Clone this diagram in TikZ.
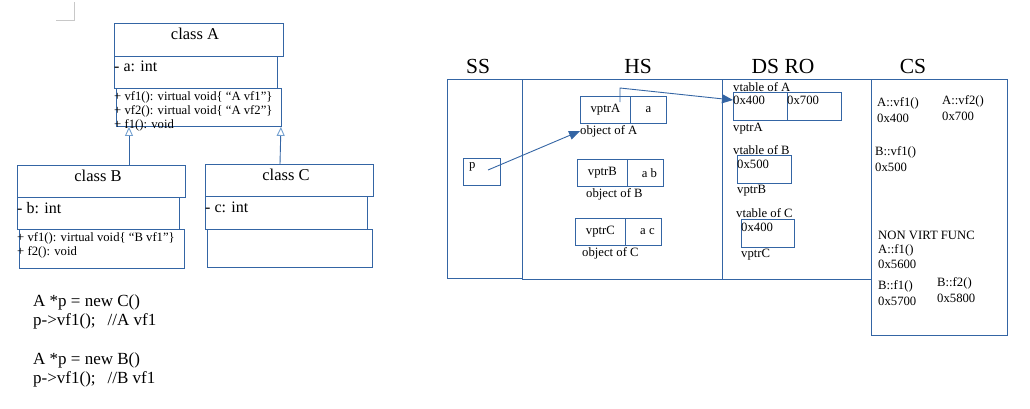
\documentclass[tikz,border=0pt]{standalone}
\usepackage{fontspec}
\setmainfont{Liberation Serif}
\usetikzlibrary{arrows.meta,calc}
\definecolor{blu}{HTML}{3465A4}
\definecolor{lightblu}{HTML}{729FCF}
\definecolor{cornergray}{HTML}{C8C8C8}
\newcommand{\fsz}[1]{\fontsize{#1}{#1}\selectfont}
\begin{document}
\begin{tikzpicture}[x=1pt,y=-1pt,
  box/.style={draw=blu, line width=0.9pt, inner sep=0pt, anchor=north west},
  txt/.style={inner sep=0pt, font=\fsz{12.7}},
  ltxt/.style={txt, anchor=west},
  title/.style={inner sep=0pt, font=\fsz{16.5}},
  attr/.style={inner sep=0pt, anchor=west, font=\fsz{16}},
  code/.style={inner sep=0pt, anchor=west, font=\fsz{17}},
  head/.style={inner sep=0pt, font=\fsz{21.5}},
  inh/.style={draw=blu, line width=0.9pt, -{Triangle[open, length=9pt, width=8pt, color=lightblu, fill=white]}},
  ptr/.style={draw=blu, line width=0.9pt, -{Triangle[length=11pt, width=9pt]}}
]
\useasboundingbox (0,0) rectangle (1030,408);

% page corner mark
\draw[cornergray, line width=1pt] (56,20) -- (74,20) -- (74,2);

% ---------- class A ----------
\node[box, minimum width=169pt, minimum height=33pt] (Ahead) at (114,23) {};
\node[box, minimum width=163pt, minimum height=32pt] (Aattr) at (114,56) {};
\node[box, minimum width=165pt, minimum height=38pt] (Ameth) at (116,88) {};
\node[title] (Atitle) at (195,34) {class A};
\node[attr] (Aa) at (114,66) {- a: int};
\node[ltxt] (Am1) at (114,97) {+ vf1(): virtual void\{ “A vf1”\}};
\node[ltxt] (Am2) at (114,111) {+ vf2(): virtual void\{ “A vf2”\}};
\node[ltxt] (Am3) at (114,125) {+ f1(): void};

% ---------- class B ----------
\node[box, minimum width=168pt, minimum height=32pt] (Bhead) at (17,165) {};
\node[box, minimum width=162pt, minimum height=32pt] (Battr) at (17,197) {};
\node[box, minimum width=165pt, minimum height=39pt] (Bmeth) at (19,229) {};
\node[title] (Btitle) at (98,176) {class B};
\node[attr] (Bb) at (17,208) {- b: int};
\node[ltxt] (Bm1) at (17,238) {+ vf1(): virtual void\{ “B vf1”\}};
\node[ltxt] (Bm2) at (17,252) {+ f2(): void};

% ---------- class C ----------
\node[box, minimum width=168pt, minimum height=32pt] (Chead) at (205,164) {};
\node[box, minimum width=162pt, minimum height=33pt] (Cattr) at (205,196) {};
\node[box, minimum width=165pt, minimum height=38pt] (Cmeth) at (207,229) {};
\node[title] (Ctitle) at (286,175) {class C};
\node[attr] (Cc) at (205,207) {- c: int};

% inheritance
\draw[inh] ($(Bhead.north west)+(112,0)$) -- ($(Ameth.south west)+(13,0)$);
\draw[inh] ($(Chead.north west)+(75,0)$) -- ($(Ameth.south east)+(-1,0)$);

% ---------- code ----------
\node[code] (c1) at (33,302) {A *p = new C()};
\node[code] (c2) at (33,321) {p->vf1();\hspace{12pt}//A vf1};
\node[code] (c3) at (33,360) {A *p = new B()};
\node[code] (c4) at (33,379) {p->vf1();\hspace{12pt}//B vf1};

% ---------- memory segments ----------
\node[box, minimum width=75pt, minimum height=199pt] (SS) at (447,79) {};
\node[box, minimum width=200pt, minimum height=200pt] (HS) at (522,79) {};
\node[box, minimum width=149pt, minimum height=200pt] (DS) at (722,79) {};
\node[box, minimum width=136pt, minimum height=256pt] (CS) at (871,79) {};
\node[head] (SSl) at (478,66) {SS};
\node[head] (HSl) at (638,66) {HS};
\node[head] (DSl) at (783,66) {DS RO};
\node[head] (CSl) at (913,66) {CS};

% stack
\node[box, minimum width=37pt, minimum height=27pt] (pbox) at (463,158) {};
\node[ltxt] (p) at (469,167) {p};

% heap objects
\node[box, minimum width=50pt, minimum height=27pt] (vA) at (580,96) {};
\node[box, minimum width=36pt, minimum height=27pt] (dA) at (630,96) {};
\node[txt] at (vA.center) {vptrA};
\node[txt] at (dA.center) {a};
\node[ltxt] (objA) at (580,131) {object of A};

\node[box, minimum width=50pt, minimum height=27pt] (vB) at (577,159) {};
\node[box, minimum width=36pt, minimum height=27pt] (dB) at (627,159) {};
\node[txt] at (vB.center) {vptrB};
\node[txt] at ($(dB.center)+(4,0)$) {a b};
\node[ltxt] (objB) at (586,194) {object of B};

\node[box, minimum width=50pt, minimum height=27pt] (vC) at (575,218) {};
\node[box, minimum width=36pt, minimum height=27pt] (dC) at (625,218) {};
\node[txt] at (vC.center) {vptrC};
\node[txt] at ($(dC.center)+(4,0)$) {a c};
\node[ltxt] (objC) at (582,253) {object of C};

% vtables
\node[ltxt] (vtA) at (733,87) {vtable of A};
\node[box, minimum width=54pt, minimum height=28pt] (tA1) at (733,92) {};
\node[box, minimum width=54pt, minimum height=28pt] (tA2) at (787,92) {};
\node[ltxt] at (733,100) {0x400};
\node[ltxt] at (787,100) {0x700};
\node[ltxt] at (733,129) {vptrA};

\node[ltxt] (vtB) at (733,150) {vtable of B};
\node[box, minimum width=54pt, minimum height=28pt] (tB1) at (737,155) {};
\node[ltxt] at (737,164) {0x500};
\node[ltxt] at (737,191) {vptrB};

\node[ltxt] (vtC) at (736,213) {vtable of C};
\node[box, minimum width=53pt, minimum height=28pt] (tC1) at (741,219) {};
\node[ltxt] at (741,227) {0x400};
\node[ltxt] at (741,255) {vptrC};

% code segment
\node[ltxt] at (877,103) {A::vf1()};
\node[ltxt] at (877,118) {0x400};
\node[ltxt] at (942,101) {A::vf2()};
\node[ltxt] at (942,116) {0x700};
\node[ltxt] at (875,152) {B::vf1()};
\node[ltxt] at (875,167) {0x500};
\node[ltxt] at (878,235) {NON VIRT FUNC};
\node[ltxt] at (878,250) {A::f1()};
\node[ltxt] at (878,264) {0x5600};
\node[ltxt] at (878,286) {B::f1()};
\node[ltxt] at (878,301) {0x5700};
\node[ltxt] at (937,283) {B::f2()};
\node[ltxt] at (937,298) {0x5800};

% pointers
\coordinate (pfrom) at (488,170);
\draw[ptr] (pfrom) -- (objA.west);
\coordinate (vfrom) at (620,102);
\coordinate (vbend) at (620,88);
\coordinate (vto) at (733,100);
\draw[ptr] (vfrom) -- (vbend) -- (vto);
\end{tikzpicture}
\end{document}
